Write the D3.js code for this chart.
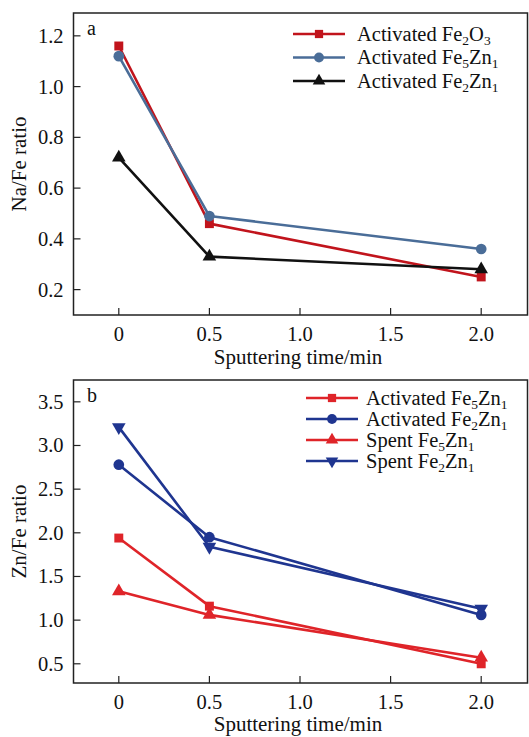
<!DOCTYPE html>
<html>
<head>
<meta charset="utf-8">
<script src="https://cdn.jsdelivr.net/npm/d3@7"></script>
</head>
<body style="margin:0;padding:0;background:#fff">
<svg id="chart" width="529" height="737"></svg>
<script>
// ---- data ----
const times = [0, 0.5, 2.0];
const xTicks = [0, 0.5, 1.0, 1.5, 2.0];

// panel a: Na/Fe ratio
const naTicks = [0.2, 0.4, 0.6, 0.8, 1.0, 1.2];
const naActFe2O3 = [1.16, 0.46, 0.25];
const naActFe5Zn1 = [1.12, 0.49, 0.36];
const naActFe2Zn1 = [0.72, 0.33, 0.28];

// panel b: Zn/Fe ratio
const znTicks = [0.5, 1.0, 1.5, 2.0, 2.5, 3.0, 3.5];
const znActFe5Zn1 = [1.94, 1.16, 0.50];
const znActFe2Zn1 = [2.78, 1.95, 1.06];
const znSpentFe5Zn1 = [1.33, 1.06, 0.57];
const znSpentFe2Zn1 = [3.21, 1.84, 1.13];

const FONT_CSS = "font-family: 'Liberation Serif', 'Times New Roman', serif !important;";
const svg = d3.select("#chart").attr("style", FONT_CSS);

function addText(parent) {
  return parent.append("text").attr("style", FONT_CSS).attr("fill", "#111");
}

function drawPanel(cfg) {
  const left = 73.5, right = 527.5;
  const x = d3.scaleLinear().domain([-0.25, 2.25]).range([left, 526.5]);
  const y = d3.scaleLinear().domain(cfg.yDomain).range([cfg.bottom, cfg.top]);
  const g = svg.append("g").attr("style", FONT_CSS);

  g.append("rect").attr("x", left).attr("y", cfg.top)
    .attr("width", right - left).attr("height", cfg.bottom - cfg.top)
    .attr("fill", "none").attr("stroke", "#222").attr("stroke-width", 1.5);

  const fmtX = d => d === 0 ? "0" : d3.format(".1f")(d);
  const xt = g.selectAll(null).data(xTicks).enter().append("g")
    .attr("transform", d => `translate(${x(d)},${cfg.bottom})`);
  xt.append("line").attr("y1", 0).attr("y2", -7).attr("stroke", "#222").attr("stroke-width", 1.2);
  addText(xt).attr("font-size", 20.5).attr("text-anchor", "middle").attr("y", 26).text(fmtX);

  const yt = g.selectAll(null).data(cfg.yTicks).enter().append("g")
    .attr("transform", d => `translate(${left},${y(d)})`);
  yt.append("line").attr("x1", 0).attr("x2", 7).attr("stroke", "#222").attr("stroke-width", 1.2);
  addText(yt).attr("font-size", 20.5).attr("text-anchor", "end").attr("x", -10).attr("dy", "0.34em")
    .text(d3.format(".1f"));

  addText(g).attr("x", 298).attr("y", cfg.xTitleY)
    .attr("text-anchor", "middle").attr("font-size", 21).text("Sputtering time/min");
  addText(g).attr("transform", `translate(26,${(cfg.top + cfg.bottom) / 2}) rotate(-90)`)
    .attr("text-anchor", "middle").attr("font-size", 21).text(cfg.yTitle);
  addText(g).attr("x", 87).attr("y", cfg.top + 22).attr("font-size", 20).text(cfg.letter);

  const line = d3.line().x((d, i) => x(times[i])).y(d => y(d));
  cfg.series.forEach(s => {
    g.append("path").datum(s.values).attr("d", line)
      .attr("fill", "none").attr("stroke", s.color).attr("stroke-width", 2.6)
      .attr("stroke-linejoin", "round");
    g.selectAll(null).data(s.values).enter().append("path")
      .attr("d", d3.symbol().type(s.symbol).size(s.size))
      .attr("transform", (d, i) => `translate(${x(times[i])},${y(d)}) rotate(${s.rot || 0})`)
      .attr("fill", s.color);
  });

  cfg.series.forEach((s, i) => {
    const yy = cfg.legY + i * cfg.legStep;
    g.append("line").attr("x1", cfg.legX).attr("x2", cfg.legX + 52)
      .attr("y1", yy).attr("y2", yy).attr("stroke", s.color).attr("stroke-width", 2.6);
    g.append("path").attr("d", d3.symbol().type(s.symbol).size(s.size * 0.85))
      .attr("transform", `translate(${cfg.legX + 26},${yy}) rotate(${s.rot || 0})`)
      .attr("fill", s.color);
    const t = addText(g).attr("x", cfg.legX + cfg.legTextDx).attr("y", yy + 6.5).attr("font-size", 20.5);
    let shifted = false;
    s.label.forEach(p => {
      if (typeof p === "string") {
        t.append("tspan").attr("style", FONT_CSS).attr("font-size", 20.5)
          .attr("dy", shifted ? -4 : 0).text(p);
        shifted = false;
      } else {
        t.append("tspan").attr("style", FONT_CSS).attr("font-size", 13.5)
          .attr("dy", 4).text(p.sub);
        shifted = true;
      }
    });
  });
}

drawPanel({
  top: 13, bottom: 315, yDomain: [0.1, 1.29], yTicks: naTicks,
  yTitle: "Na/Fe ratio", letter: "a", xTitleY: 364,
  legX: 293, legTextDx: 64, legY: 34, legStep: 23.5,
  series: [
    { values: naActFe2O3, color: "#c1141c", symbol: d3.symbolSquare, size: 80,
      label: ["Activated Fe", { sub: "2" }, "O", { sub: "3" }] },
    { values: naActFe5Zn1, color: "#4a6d98", symbol: d3.symbolCircle, size: 90,
      label: ["Activated Fe", { sub: "5" }, "Zn", { sub: "1" }] },
    { values: naActFe2Zn1, color: "#111111", symbol: d3.symbolTriangle, size: 80,
      label: ["Activated Fe", { sub: "2" }, "Zn", { sub: "1" }] }
  ]
});

drawPanel({
  top: 380, bottom: 683, yDomain: [0.28, 3.75], yTicks: znTicks,
  yTitle: "Zn/Fe ratio", letter: "b", xTitleY: 731,
  legX: 306, legTextDx: 60, legY: 398, legStep: 21,
  series: [
    { values: znActFe5Zn1, color: "#df2429", symbol: d3.symbolSquare, size: 80,
      label: ["Activated Fe", { sub: "5" }, "Zn", { sub: "1" }] },
    { values: znActFe2Zn1, color: "#1f3590", symbol: d3.symbolCircle, size: 90,
      label: ["Activated Fe", { sub: "2" }, "Zn", { sub: "1" }] },
    { values: znSpentFe5Zn1, color: "#df2429", symbol: d3.symbolTriangle, size: 80,
      label: ["Spent Fe", { sub: "5" }, "Zn", { sub: "1" }] },
    { values: znSpentFe2Zn1, color: "#1f3590", symbol: d3.symbolTriangle, size: 80, rot: 180,
      label: ["Spent Fe", { sub: "2" }, "Zn", { sub: "1" }] }
  ]
});
</script>
</body>
</html>
